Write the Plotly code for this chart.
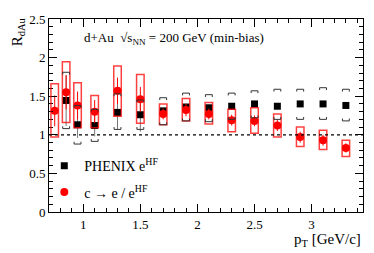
import plotly.graph_objects as go

# Red: c -> e / e^HF
red_x = [0.75, 0.85, 0.95, 1.1, 1.3, 1.5, 1.7, 1.9, 2.1, 2.3, 2.5, 2.7, 2.9, 3.1, 3.3]
red_y = [1.31, 1.55, 1.38, 1.30, 1.57, 1.46, 1.27, 1.32, 1.27, 1.19, 1.18, 1.12, 0.97, 0.93, 0.83]
red_stat = [0.20, 0.22, 0.18, 0.15, 0.17, 0.16, 0.07, 0.08, 0.07, 0.07, 0.07, 0.07, 0.07, 0.07, 0.06]
red_sys_lo = [0.97, 1.16, 1.09, 1.09, 1.24, 1.15, 1.13, 1.18, 1.14, 1.04, 1.02, 0.97, 0.85, 0.81, 0.72]
red_sys_hi = [1.66, 1.945, 1.675, 1.51, 1.89, 1.78, 1.40, 1.47, 1.42, 1.33, 1.35, 1.27, 1.10, 1.06, 0.93]

# Black: PHENIX e^HF
blk_x = [0.85, 0.95, 1.1, 1.3, 1.5, 1.7, 1.9, 2.1, 2.3, 2.5, 2.7, 2.9, 3.1, 3.3]
blk_y = [1.445, 1.13, 1.12, 1.29, 1.26, 1.31, 1.36, 1.35, 1.37, 1.40, 1.37, 1.40, 1.40, 1.38]
blk_stat = [0.33, 0.17, 0.14, 0.22, 0.22, 0.04, 0.04, 0.04, 0.03, 0.03, 0.03, 0.03, 0.03, 0.03]
blk_sys_lo = [1.08, 0.88, 0.915, 1.07, 1.07, 1.13, 1.18, 1.17, 1.20, 1.22, 1.20, 1.20, 1.20, 1.18]
blk_sys_hi = [1.81, 1.38, 1.33, 1.53, 1.45, 1.48, 1.54, 1.52, 1.54, 1.57, 1.59, 1.59, 1.61, 1.59]

FONT = "Liberation Serif"
fig = go.Figure()

shapes = []
# red sys boxes
bw = 0.033
for x, lo, hi in zip(red_x, red_sys_lo, red_sys_hi):
    shapes.append(dict(type="rect", xref="x", yref="y", x0=x - bw, x1=x + bw, y0=lo, y1=hi,
                       line=dict(color="rgba(255,0,0,0.75)", width=1.5), layer="above"))
# black sys brackets
hw = 0.03
tk = 0.03
for x, lo, hi in zip(blk_x, blk_sys_lo, blk_sys_hi):
    shapes.append(dict(type="path", xref="x", yref="y",
                       path=f"M{x-hw},{hi-tk} L{x-hw},{hi} L{x+hw},{hi} L{x+hw},{hi-tk}",
                       line=dict(color="#333", width=1)))
    shapes.append(dict(type="path", xref="x", yref="y",
                       path=f"M{x-hw},{lo+tk} L{x-hw},{lo} L{x+hw},{lo} L{x+hw},{lo+tk}",
                       line=dict(color="#333", width=1)))
# dashed line at 1
shapes.append(dict(type="line", xref="paper", yref="y", x0=0, x1=1, y0=1, y1=1,
                   line=dict(color="black", width=1.2, dash="dot")))

fig.add_trace(go.Scatter(x=blk_x, y=blk_y, mode="markers", name="PHENIX e<sup>HF</sup>",
                         marker=dict(symbol="square", color="black", size=7),
                         error_y=dict(type="data", array=blk_stat, color="#777", thickness=1, width=0),
                         legendgroup="a"))
fig.add_trace(go.Scatter(x=red_x, y=red_y, mode="markers", name="c \u2192 e / e<sup>HF</sup>",
                         marker=dict(symbol="circle", color="red", size=8),
                         error_y=dict(type="data", array=red_stat, color="red", thickness=1, width=0),
                         legendgroup="b"))

axis_common = dict(showgrid=False, zeroline=False, showline=True, linecolor="black", linewidth=1,
                   mirror="allticks", ticks="inside", ticklen=8, tickcolor="black",
                   ticklabeloverflow="allow",
                   tickfont=dict(family=FONT, size=13, color="black"))

# page body adds an 8px offset; the figure is sized to fill the remaining window
fig.update_layout(
    width=366, height=245,
    margin=dict(l=41, r=11, t=4, b=41),
    plot_bgcolor="white", paper_bgcolor="white",
    shapes=shapes,
    xaxis=dict(range=[0.7, 3.45], tickvals=[1, 1.5, 2, 2.5, 3], ticktext=["1", "1.5", "2", "2.5", "3"],
               minor=dict(dtick=0.1, ticks="inside", ticklen=4, tickcolor="black"), **axis_common),
    yaxis=dict(range=[0, 2.5], tickvals=[0, 0.5, 1, 1.5, 2, 2.5], ticktext=["0", "0.5", "1", "1.5", "2", "2.5"],
               minor=dict(dtick=0.1, ticks="inside", ticklen=4, tickcolor="black"), **axis_common),
    showlegend=True,
    legend=dict(x=-0.015, y=0.32, xanchor="left", yanchor="top", bgcolor="rgba(0,0,0,0)",
                font=dict(family=FONT, size=14, color="black"), tracegroupgap=5, itemwidth=30),
    annotations=[
        dict(text="d+Au  \u221As<sub>NN</sub> = 200 GeV (min-bias)", xref="paper", yref="paper",
             x=0.105, y=0.90, xanchor="left", yanchor="middle", showarrow=False,
             font=dict(family=FONT, size=13, color="black")),
        dict(text="R<sub>dAu</sub>", xref="paper", yref="paper", x=-0.1, y=1.02, xanchor="center",
             yanchor="top", textangle=-90, showarrow=False, font=dict(family=FONT, size=15, color="black")),
        dict(text="p<sub>T</sub> [GeV/c]", xref="paper", yref="paper", x=1.0, y=-0.09, xanchor="right",
             yanchor="top", showarrow=False, font=dict(family=FONT, size=15, color="black")),
    ],
)

fig.write_html("out.html")
